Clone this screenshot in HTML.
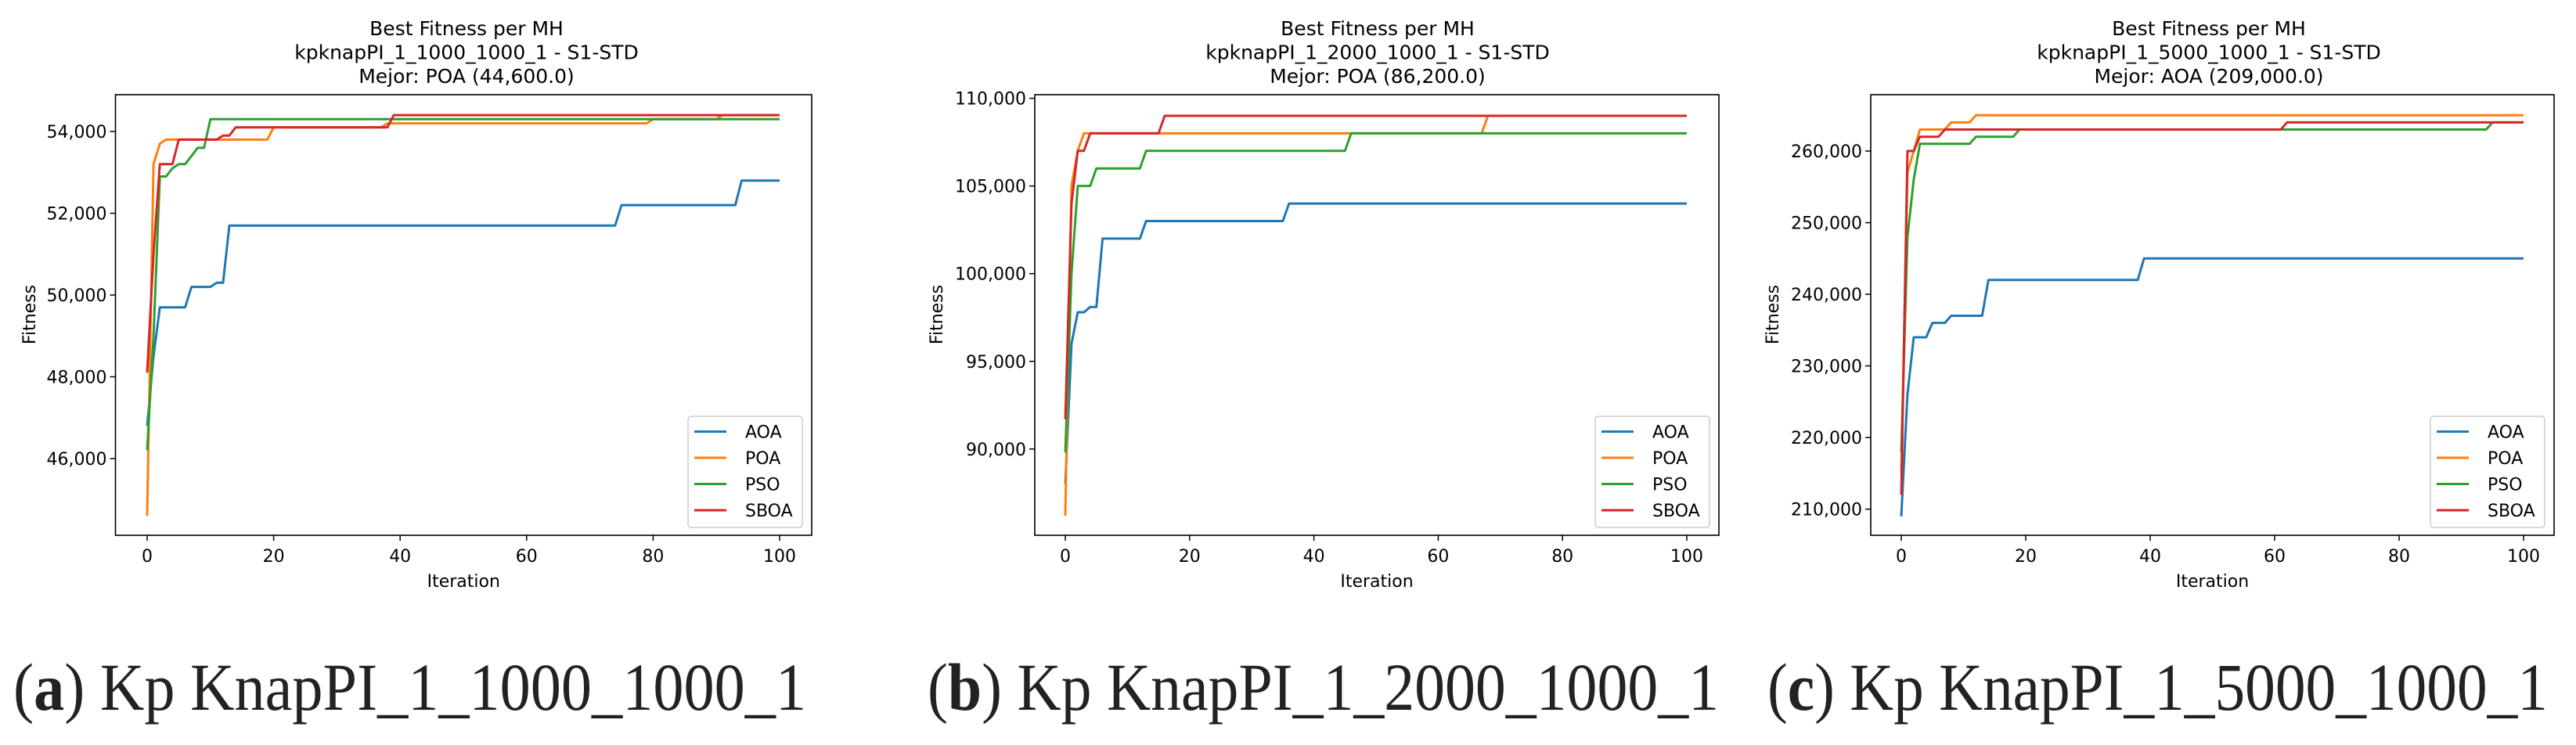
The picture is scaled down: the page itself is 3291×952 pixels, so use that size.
<!DOCTYPE html>
<html><head><meta charset="utf-8">
<style>
html,body{margin:0;padding:0;background:#fff;}
svg{display:block;}
text{font-family:"DejaVu Sans","Liberation Sans",sans-serif;fill:#000;}
.cap{font-family:"Liberation Serif",serif;fill:#222;}
</style></head>
<body>
<svg id="fig" width="3291" height="952" viewBox="0 0 3291 952" xmlns="http://www.w3.org/2000/svg"></svg>
<script>
const seriesNames = ["AOA","POA","PSO","SBOA"];
const seriesColors = ["#1f77b4","#ff7f0e","#2ca02c","#d62728"];
const xTicks = [0,20,40,60,80,100];

// Panel a
const aTitle = ["Best Fitness per MH","kpknapPI_1_1000_1000_1 - S1-STD","Mejor: POA (44,600.0)"];
const aYTicks = [46000,48000,50000,52000,54000];
const aAOAx = [0,1,2,6,7,10,11,12,13,74,75,93,94,100];
const aAOAy = [46800,48500,49700,49700,50200,50200,50300,50300,51700,51700,52200,52200,52800,52800];
const aPOAx = [0,1,2,3,19,20,37,38,79,80,90,91,100];
const aPOAy = [44600,53200,53700,53800,53800,54100,54100,54200,54200,54300,54300,54400,54400];
const aPSOx = [0,1,2,3,4,5,6,7,8,9,10,100];
const aPSOy = [46200,49000,52900,52900,53100,53200,53200,53400,53600,53600,54300,54300];
const aSBOAx = [0,1,2,4,5,11,12,13,14,38,39,100];
const aSBOAy = [48100,51000,53200,53200,53800,53800,53900,53900,54100,54100,54400,54400];

// Panel b
const bTitle = ["Best Fitness per MH","kpknapPI_1_2000_1000_1 - S1-STD","Mejor: POA (86,200.0)"];
const bYTicks = [90000,95000,100000,105000,110000];
const bAOAx = [0,1,2,3,4,5,6,12,13,35,36,100];
const bAOAy = [88000,96000,97800,97800,98100,98100,102000,102000,103000,103000,104000,104000];
const bPOAx = [0,1,2,3,67,68,100];
const bPOAy = [86200,105000,107000,108000,108000,109000,109000];
const bPSOx = [0,1,2,4,5,12,13,45,46,100];
const bPSOy = [89800,100000,105000,105000,106000,106000,107000,107000,108000,108000];
const bSBOAx = [0,1,2,3,4,15,16,100];
const bSBOAy = [91700,104000,107000,107000,108000,108000,109000,109000];

// Panel c
const cTitle = ["Best Fitness per MH","kpknapPI_1_5000_1000_1 - S1-STD","Mejor: AOA (209,000.0)"];
const cYTicks = [210000,220000,230000,240000,250000,260000];
const cAOAx = [0,1,2,4,5,7,8,13,14,38,39,100];
const cAOAy = [209000,226000,234000,234000,236000,236000,237000,237000,242000,242000,245000,245000];
const cPOAx = [0,1,2,3,7,8,11,12,100];
const cPOAy = [215000,257000,260000,263000,263000,264000,264000,265000,265000];
const cPSOx = [0,1,2,3,11,12,18,19,94,95,100];
const cPSOy = [218000,248000,256000,261000,261000,262000,262000,263000,263000,264000,264000];
const cSBOAx = [0,1,2,3,6,7,61,62,100];
const cSBOAy = [212000,260000,260000,262000,262000,263000,263000,264000,264000];

const NS = "http://www.w3.org/2000/svg";
const svg = document.getElementById("fig");
function mk(tag, attrs, parent){
  const e = document.createElementNS(NS, tag);
  for (const k in attrs) e.setAttribute(k, attrs[k]);
  (parent||svg).appendChild(e);
  return e;
}
function fmt(v){ return v.toLocaleString("en-US"); }

const panels = [
  {id:"a", title:aTitle, yTicks:aYTicks, left:147.5, right:1037, x0:188, x100:996, yv1:54000, yp1:168, yv2:46000, yp2:586, titleX:596, ylabX:37,
   xs:[aAOAx,aPOAx,aPSOx,aSBOAx], ys:[aAOAy,aPOAy,aPSOy,aSBOAy], caption:["a","KnapPI_1_1000_1000_1"], capX:17, capW:1013},
  {id:"b", title:bTitle, yTicks:bYTicks, left:1322, right:2196, x0:1361, x100:2155, yv1:110000, yp1:125.6, yv2:90000, yp2:573.8, titleX:1760, ylabX:1196,
   xs:[bAOAx,bPOAx,bPSOx,bSBOAx], ys:[bAOAy,bPOAy,bPSOy,bSBOAy], caption:["b","KnapPI_1_2000_1000_1"], capX:1185, capW:1011},
  {id:"c", title:cTitle, yTicks:cYTicks, left:2390, right:3263, x0:2429, x100:3224, yv1:260000, yp1:193, yv2:210000, yp2:650.6, titleX:2822, ylabX:2264,
   xs:[cAOAx,cPOAx,cPSOx,cSBOAx], ys:[cAOAy,cPOAy,cPSOy,cSBOAy], caption:["c","KnapPI_1_5000_1000_1"], capX:2258, capW:997}
];
const TOP=121, BOTTOM=684;

panels.forEach(p=>{
  const g = mk("g",{});
  
  
  const xs = v => p.x0 + (p.x100-p.x0)*v/100;
  const ys = v => p.yp2 + (p.yp1-p.yp2)*(v-p.yv2)/(p.yv1-p.yv2);

  p.title.forEach((t,i)=>{
    const e = mk("text",{x:p.titleX, y:45+i*30.5, "text-anchor":"middle","font-size":"25"},g);
    e.textContent = t;
    
    
  });

  const clipId = "clip"+p.id;
  const cp = mk("clipPath",{id:clipId},g);
  mk("rect",{x:p.left,y:TOP,width:p.right-p.left,height:BOTTOM-TOP},cp);

  // series
  p.xs.forEach((xa,si)=>{
    const pts = xa.map((x,i)=>xs(x).toFixed(1)+","+ys(p.ys[si][i]).toFixed(1)).join(" ");
    const pl = mk("polyline",{points:pts,fill:"none",stroke:seriesColors[si],"stroke-width":"3","stroke-linejoin":"round","clip-path":"url(#"+clipId+")"},g);
    
    
  });

  // axes frame
  const fr = mk("rect",{x:p.left,y:TOP,width:p.right-p.left,height:BOTTOM-TOP,fill:"none",stroke:"#000","stroke-width":"1.6"},g);
  
  

  xTicks.forEach(t=>{
    const x = xs(t);
    mk("line",{x1:x,x2:x,y1:BOTTOM,y2:BOTTOM+7,stroke:"#000","stroke-width":"1.5"},g);
    const e = mk("text",{x:x,y:718,"text-anchor":"middle","font-size":"22"},g);
    e.textContent = t;
    
    
  });
  p.yTicks.forEach(t=>{
    const y = ys(t);
    mk("line",{x1:p.left-7,x2:p.left,y1:y,y2:y,stroke:"#000","stroke-width":"1.5"},g);
    const e = mk("text",{x:p.left-11,y:y+8,"text-anchor":"end","font-size":"22"},g);
    e.textContent = fmt(t);
    
    
  });

  const xl = mk("text",{x:(p.left+p.right)/2,y:750,"text-anchor":"middle","font-size":"22"},g);
  xl.textContent = "Iteration";
  
  
  const yl = mk("text",{x:0,y:0,"text-anchor":"middle","font-size":"22",transform:"translate("+(p.ylabX+8)+",402) rotate(-90)"},g);
  yl.textContent = "Fitness";
  
  

  // legend
  const lg = mk("g",{},g);
  
  
  const lx = p.right-158, ly = 532;
  mk("rect",{x:lx,y:ly,width:146,height:142,rx:4,fill:"#fff","fill-opacity":"0.8",stroke:"#ccc","stroke-width":"1.5"},lg);
  seriesNames.forEach((n,i)=>{
    const yy = ly+19.5+i*33.5;
    const ln = mk("line",{x1:lx+8,x2:lx+49,y1:yy,y2:yy,stroke:seriesColors[i],"stroke-width":"3"},lg);
    
    
    const t = mk("text",{x:lx+73,y:yy+8,"font-size":"22"},lg);
    t.textContent = n;
    
    
  });

  // caption
  const cap = mk("text",{x:p.capX,y:907,"font-size":"86",class:"cap",textLength:p.capW,lengthAdjust:"spacingAndGlyphs"},g);
  
  
  const t1 = mk("tspan",{},cap); t1.textContent="(";
  const t2 = mk("tspan",{"font-weight":"bold"},cap); t2.textContent=p.caption[0];
  const t3 = mk("tspan",{},cap); t3.textContent=") Kp "+p.caption[1];
});
</script>
</body></html>
